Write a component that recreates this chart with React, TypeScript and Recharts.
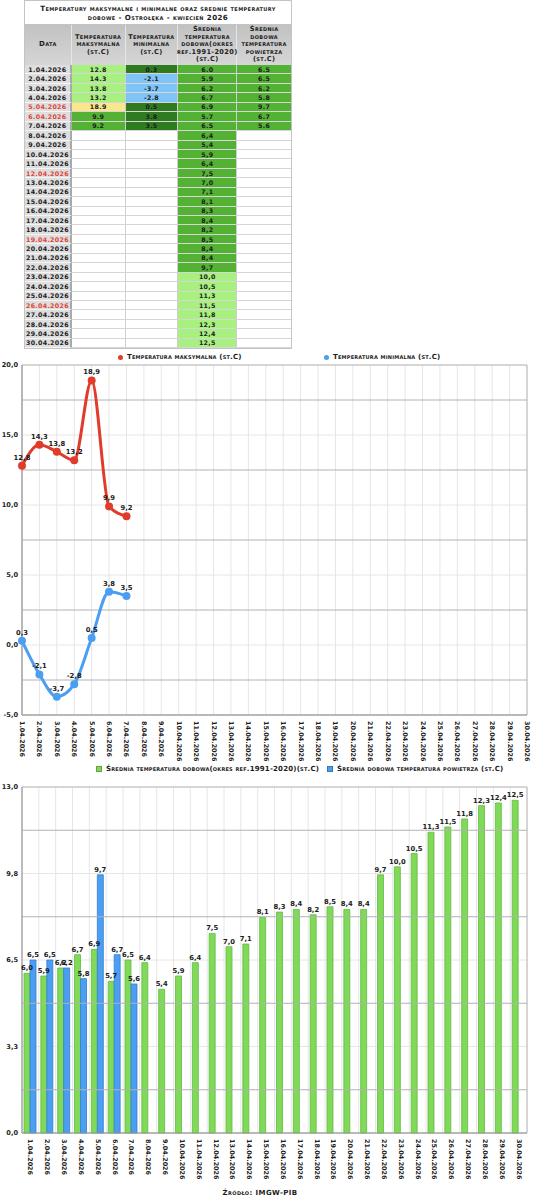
import React from 'react';
import {
  LineChart, Line, BarChart, Bar, XAxis, YAxis, CartesianGrid,
  ReferenceLine, ReferenceArea, LabelList,
} from 'recharts';

const dates = [
  '1.04.2026', '2.04.2026', '3.04.2026', '4.04.2026', '5.04.2026', '6.04.2026', '7.04.2026',
  '8.04.2026', '9.04.2026', '10.04.2026', '11.04.2026', '12.04.2026', '13.04.2026', '14.04.2026',
  '15.04.2026', '16.04.2026', '17.04.2026', '18.04.2026', '19.04.2026', '20.04.2026', '21.04.2026',
  '22.04.2026', '23.04.2026', '24.04.2026', '25.04.2026', '26.04.2026', '27.04.2026', '28.04.2026',
  '29.04.2026', '30.04.2026',
];
const redDates = ['5.04.2026', '6.04.2026', '12.04.2026', '19.04.2026', '26.04.2026'];

const maxTemp = [12.8, 14.3, 13.8, 13.2, 18.9, 9.9, 9.2];
const minTemp = [0.3, -2.1, -3.7, -2.8, 0.5, 3.8, 3.5];
const normTemp = [
  6.0, 5.9, 6.2, 6.7, 6.9, 5.7, 6.5, 6.4, 5.4, 5.9, 6.4, 7.5, 7.0, 7.1, 8.1,
  8.3, 8.4, 8.2, 8.5, 8.4, 8.4, 9.7, 10.0, 10.5, 11.3, 11.5, 11.8, 12.3, 12.4, 12.5,
];
const dailyTemp = [6.5, 6.5, 6.2, 5.8, 9.7, 6.7, 5.6];

const maxClass = ['light', 'light', 'light', 'light', 'yellow', 'mid', 'mid'];
const minClass = ['dark', 'blue', 'blue', 'blue', 'dark', 'dark', 'dark'];
const dailyClass = ['mid', 'mid', 'mid', 'mid', 'mid', 'mid', 'mid'];

const lineTicks = [-5, 0, 5, 10, 15, 20];
const lineMajor = [-2.5, 2.5, 7.5, 12.5, 17.5];
const barTicks = [0, 3.25, 6.5, 9.75, 13];
const barMajor = [1.625, 4.875, 8.125, 11.375];

const palette: Record<string, string> = {
  light: '#a8f07f',
  yellow: '#fbe68c',
  mid: '#53b133',
  dark: '#2f7b22',
  blue: '#80c3f6',
  none: '#ffffff',
};

const FONT = '"DejaVu Sans", sans-serif';
const RED = '#e03b2b';
const BLUE = '#4b9ef1';
const GREEN = '#80d958';

const lineData = dates.map((d, i) => ({
  date: d,
  max: maxTemp[i] ?? null,
  min: minTemp[i] ?? null,
}));
const barData = dates.map((d, i) => ({
  date: d,
  norm: normTemp[i],
  daily: dailyTemp[i] ?? null,
}));

const comma = (v: any) => (v == null || v === '' ? '' : Number(v).toFixed(1).replace('.', ','));

const txt: React.CSSProperties = {
  fontFamily: FONT,
  fontWeight: 'bold',
  fontVariant: 'small-caps',
  color: '#1c1c1c',
};

const renderDateTick = (props: any) => {
  const { x, y, payload } = props;
  return (
    <text
      transform={`translate(${x},${y + 6}) rotate(90)`}
      textAnchor="start"
      dominantBaseline="central"
      style={{ fontFamily: FONT, fontWeight: 'bold', fontSize: 6.4, fill: '#1c1c1c' }}
    >
      {payload.value}
    </text>
  );
};

const yTickStyle = { fontFamily: FONT, fontWeight: 'bold', fontSize: 6.6, fill: '#1c1c1c' };
const labelStyle = { fontFamily: FONT, fontWeight: 'bold', fontSize: 6.8, fill: '#1c1c1c' };

type LegendItem = { left: number; label: string; color: string; shape: 'dot' | 'square' };

const LegendRow = ({ items, top }: { items: LegendItem[]; top: number }) => (
  <div style={{ position: 'absolute', left: 0, top, width: 535, height: 12 }}>
    {items.map((it) => (
      <div key={it.label} style={{ position: 'absolute', left: it.left, top: 0, display: 'flex', alignItems: 'center', height: 12 }}>
        <span
          style={{
            display: 'inline-block',
            width: it.shape === 'dot' ? 5 : 6,
            height: it.shape === 'dot' ? 5 : 6,
            borderRadius: it.shape === 'dot' ? '50%' : 0,
            background: it.color,
            marginRight: 4,
            boxSizing: 'border-box',
            border: it.shape === 'square' ? '1px solid rgba(0,0,0,0.25)' : 'none',
          }}
        />
        <span style={{ ...txt, fontSize: 7, whiteSpace: 'nowrap', letterSpacing: 0.2 }}>{it.label}</span>
      </div>
    ))}
  </div>
);

const colW = [47, 54, 53, 59, 54];
const ROW_H = 9.45;

const fmtTable = (v: number | undefined, i: number) =>
  v == null ? '' : i < 7 ? v.toFixed(1) : v.toFixed(1).replace('.', ',');

const TCell = ({ w, bg, children, color, extra }: any) => (
  <div
    style={{
      width: w,
      height: ROW_H,
      background: bg,
      boxSizing: 'border-box',
      borderRight: '1px solid #cfcfcf',
      borderBottom: '1px solid #d6d6d6',
      display: 'flex',
      alignItems: 'center',
      justifyContent: 'center',
      ...txt,
      fontSize: 6.3,
      letterSpacing: 0.3,
      color: color || '#1c1c1c',
      ...extra,
    }}
  >
    {children}
  </div>
);

const headers = [
  ['Data'],
  ['Temperatura', 'maksymalna', '(st.C)'],
  ['Temperatura', 'minimalna', '(st.C)'],
  ['Średnia', 'temperatura', 'dobowa(okres', 'ref.1991-2020)', '(st.C)'],
  ['Średnia', 'dobowa', 'temperatura', 'powietrza', '(st.C)'],
];

const Table = () => (
  <div style={{ position: 'absolute', left: 24, top: 0, width: 268, background: '#fff', border: '1px solid #c4c4c4', boxSizing: 'border-box' }}>
    <div style={{ height: 23, display: 'flex', flexDirection: 'column', alignItems: 'center', justifyContent: 'center', ...txt, fontSize: 7.1, lineHeight: '9px', letterSpacing: 0.4, borderBottom: '1px solid #c4c4c4' }}>
      <div>Temperatury maksymalne i minimalne oraz średnie temperatury</div>
      <div>dobowe - Ostrołęka - kwiecień 2026</div>
    </div>
    <div style={{ display: 'flex', height: 40, background: 'linear-gradient(#c2c2c2, #d6d6d6)' }}>
      {headers.map((h, i) => (
        <div
          key={i}
          style={{
            width: colW[i],
            boxSizing: 'border-box',
            borderRight: i < 4 ? '1px solid #e6e6e6' : 'none',
            display: 'flex',
            flexDirection: 'column',
            alignItems: 'center',
            justifyContent: 'center',
            ...txt,
            fontSize: i === 0 ? 7 : 6.6,
            lineHeight: '7.5px',
            letterSpacing: 0.35,
          }}
        >
          {h.map((l) => (
            <div key={l} style={{ whiteSpace: 'nowrap' }}>{l}</div>
          ))}
        </div>
      ))}
    </div>
    {dates.map((d, i) => (
      <div key={d} style={{ display: 'flex' }}>
        <TCell
          w={colW[0]}
          bg="#dedede"
          color={redDates.includes(d) ? '#e0453a' : '#1c1c1c'}
          extra={{ borderRight: '2px solid #a9a9a9', borderBottom: '1px solid #f4f4f4' }}
        >
          {d}
        </TCell>
        <TCell w={colW[1]} bg={palette[maxClass[i] ?? 'none']}>{fmtTable(maxTemp[i], i)}</TCell>
        <TCell w={colW[2]} bg={palette[minClass[i] ?? 'none']}>{fmtTable(minTemp[i], i)}</TCell>
        <TCell w={colW[3]} bg={palette[normTemp[i] >= 10 ? 'light' : 'mid']}>{fmtTable(normTemp[i], i)}</TCell>
        <TCell w={colW[4]} bg={palette[dailyClass[i] ?? 'none']} extra={{ borderRight: 'none' }}>{fmtTable(dailyTemp[i], i)}</TCell>
      </div>
    ))}
  </div>
);

const TempLineChart = () => (
  <div style={{ position: 'absolute', left: 0, top: 345 }}>
    <LineChart width={535} height={418} data={lineData} margin={{ top: 20, right: 8, left: 0, bottom: 0 }}>
      <CartesianGrid stroke="#e6e6e6" strokeWidth={1} />
      {lineMajor.map((v) => (
        <ReferenceLine key={v} y={v} stroke="#b2b2b2" strokeWidth={1} />
      ))}
      <ReferenceArea y1={-5} y2={20} fill="none" stroke="#b8b8b8" strokeWidth={1} />
      <XAxis
        dataKey="date"
        interval={0}
        tickLine={false}
        tickSize={0}
        tickMargin={0}
        height={48}
        axisLine={{ stroke: '#9c9c9c' }}
        tick={renderDateTick}
      />
      <YAxis
        domain={[-5, 20]}
        ticks={lineTicks}
        width={22}
        tickLine={false}
        tickSize={0}
        tickMargin={4}
        axisLine={{ stroke: '#9c9c9c' }}
        tick={yTickStyle}
        tickFormatter={comma}
      />
      <Line
        type="monotone"
        dataKey="max"
        stroke={RED}
        strokeWidth={3}
        dot={{ r: 4, fill: RED, stroke: RED, strokeWidth: 0 }}
        isAnimationActive={false}
      >
        <LabelList dataKey="max" position="top" offset={6} formatter={comma} style={labelStyle} />
      </Line>
      <Line
        type="monotone"
        dataKey="min"
        stroke={BLUE}
        strokeWidth={3}
        dot={{ r: 4, fill: BLUE, stroke: BLUE, strokeWidth: 0 }}
        isAnimationActive={false}
      >
        <LabelList dataKey="min" position="top" offset={6} formatter={comma} style={labelStyle} />
      </Line>
    </LineChart>
    <LegendRow
      top={6}
      items={[
        { left: 118, label: 'Temperatura maksymalna (st.C)', color: RED, shape: 'dot' },
        { left: 324, label: 'Temperatura minimalna (st.C)', color: BLUE, shape: 'dot' },
      ]}
    />
  </div>
);

const bandGrid = (args: any) => {
  const off = args.offset;
  return dates.map((_, i) => off.left + ((i + 1) * off.width) / dates.length);
};

const TempBarChart = () => (
  <div style={{ position: 'absolute', left: 0, top: 760 }}>
    <BarChart
      width={535}
      height={421}
      data={barData}
      margin={{ top: 27, right: 8, left: 0, bottom: 0 }}
      barGap={0}
      barSize={6}
    >
      <CartesianGrid stroke="#e6e6e6" strokeWidth={1} verticalCoordinatesGenerator={bandGrid} />
      {barMajor.map((v) => (
        <ReferenceLine key={v} y={v} stroke="#b2b2b2" strokeWidth={1} />
      ))}
      <ReferenceArea y1={0} y2={13} fill="none" stroke="#b8b8b8" strokeWidth={1} />
      <XAxis
        dataKey="date"
        interval={0}
        tickLine={false}
        tickSize={0}
        tickMargin={0}
        height={48}
        axisLine={{ stroke: '#9c9c9c' }}
        tick={renderDateTick}
      />
      <YAxis
        domain={[0, 13]}
        ticks={barTicks}
        width={22}
        tickLine={false}
        tickSize={0}
        tickMargin={4}
        axisLine={{ stroke: '#9c9c9c' }}
        tick={yTickStyle}
        tickFormatter={comma}
      />
      <Bar dataKey="norm" fill={GREEN} stroke="#62bb3d" strokeWidth={0.8} isAnimationActive={false}>
        <LabelList dataKey="norm" position="top" offset={3} formatter={comma} style={labelStyle} />
      </Bar>
      <Bar dataKey="daily" fill={BLUE} stroke="#2f80d2" strokeWidth={0.8} isAnimationActive={false}>
        <LabelList dataKey="daily" position="top" offset={3} formatter={comma} style={labelStyle} />
      </Bar>
    </BarChart>
    <LegendRow
      top={3}
      items={[
        { left: 96, label: 'Średnia temperatura dobowa(okres ref.1991-2020)(st.C)', color: GREEN, shape: 'square' },
        { left: 327, label: 'Średnia dobowa temperatura powietrza (st.C)', color: BLUE, shape: 'square' },
      ]}
    />
  </div>
);

export default function App() {
  return (
    <div style={{ position: 'relative', width: 535, height: 1200, background: '#fff', overflow: 'hidden', fontFamily: FONT }}>
      <style>{'body{margin:0;background:#fff}'}</style>
      <Table />
      <TempLineChart />
      <TempBarChart />
      <div style={{ position: 'absolute', top: 1189, left: 0, width: 520, textAlign: 'center', ...txt, fontSize: 7, letterSpacing: 0.4 }}>
        Źródło: IMGW-PIB
      </div>
    </div>
  );
}
